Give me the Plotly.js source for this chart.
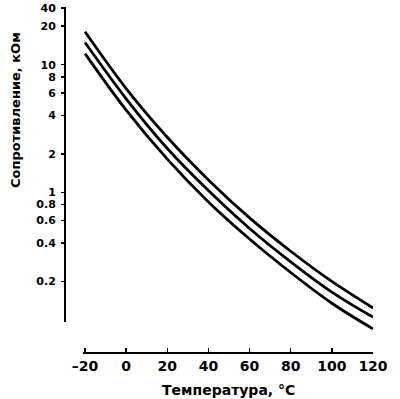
<!DOCTYPE html>
<html><head><meta charset="utf-8">
<script src="https://cdn.plot.ly/plotly-3.0.1.min.js"></script>
<style>html,body{margin:0;padding:0;background:#fff}</style>
</head><body><div id="chart" style="width:400px;height:399px"></div>
<script>
// Temperature, °C
const temps = [-20, 0, 20, 40, 60, 80, 100, 120];
// Resistance, kOhm (three thermistor curves)
const rTop    = [18.1, 6.5, 2.7, 1.25, 0.63, 0.345, 0.20, 0.124];
const rMiddle = [14.9, 5.4, 2.2, 1.03, 0.52, 0.285, 0.165, 0.105];
const rBottom = [12.2, 4.4, 1.82, 0.84, 0.43, 0.235, 0.135, 0.085];

const xTickVals = [-20, 0, 20, 40, 60, 80, 100, 120];
const xTickText = ['\u201320', '0', '20', '40', '60', '80', '100', '120'];
const yTickVals = [0.2, 0.4, 0.6, 0.8, 1, 2, 4, 6, 8, 10, 20, 27.9];
const yTickText = ['0.2', '0.4', '0.6', '0.8', '1', '2', '4', '6', '8', '10', '20', '40'];

const lineStyle = {color: '#000', width: 2.8, shape: 'spline', smoothing: 1};
const traces = [rTop, rMiddle, rBottom].map(r => ({
  x: temps, y: r, type: 'scatter', mode: 'lines', line: lineStyle, hoverinfo: 'skip'
}));

const fam = 'DejaVu Sans, sans-serif';
const xFont = {family: fam, size: 14, color: '#000', weight: 'bold'};
const yFont = {family: fam, size: 11, color: '#000', weight: 'bold'};
const yBottomFrac = (352 - 322) / 345;

const layout = {
  width: 400, height: 399,
  margin: {l: 65, r: 25, t: 7, b: 47, pad: 0},
  paper_bgcolor: '#fff', plot_bgcolor: '#fff',
  showlegend: false,
  font: xFont,
  xaxis: {
    domain: [0.058, 0.9935], range: [-21, 120],
    showline: true, linewidth: 2, linecolor: '#000',
    ticks: 'inside', ticklen: 4, tickwidth: 1.5, tickcolor: '#000',
    tickvals: xTickVals, ticktext: xTickText,
    tickfont: xFont, ticklabelstandoff: 0,
    showgrid: false, zeroline: false
  },
  yaxis: {
    type: 'log', domain: [0, 1],
    range: [Math.log10(0.056), Math.log10(28.3)],
    anchor: 'free', position: 0,
    showline: false,
    ticks: 'outside', ticklen: 4, tickwidth: 1.5, tickcolor: '#000',
    tickvals: yTickVals, ticktext: yTickText,
    tickfont: yFont, ticklabelstandoff: 3,
    showgrid: false, zeroline: false
  },
  shapes: [{
    type: 'line', xref: 'paper', yref: 'paper',
    x0: 0, x1: 0, y0: yBottomFrac, y1: 1,
    line: {color: '#000', width: 2}
  }],
  annotations: [
    {text: 'Сопротивление, кОм', textangle: -90, xref: 'paper', yref: 'paper',
     x: -50 / 310, y: (352 - 110) / 345, xanchor: 'center', yanchor: 'middle',
     showarrow: false, font: {family: fam, size: 13, color: '#000', weight: 'bold'}},
    {text: 'Температура, °C', xref: 'paper', yref: 'paper',
     x: (228 - 65) / 310, y: -(390 - 352) / 345, xanchor: 'center', yanchor: 'middle',
     showarrow: false, font: {family: fam, size: 14, color: '#000', weight: 'bold'}}
  ]
};

Plotly.newPlot('chart', traces, layout, {displayModeBar: false, staticPlot: true});
</script></body></html>
